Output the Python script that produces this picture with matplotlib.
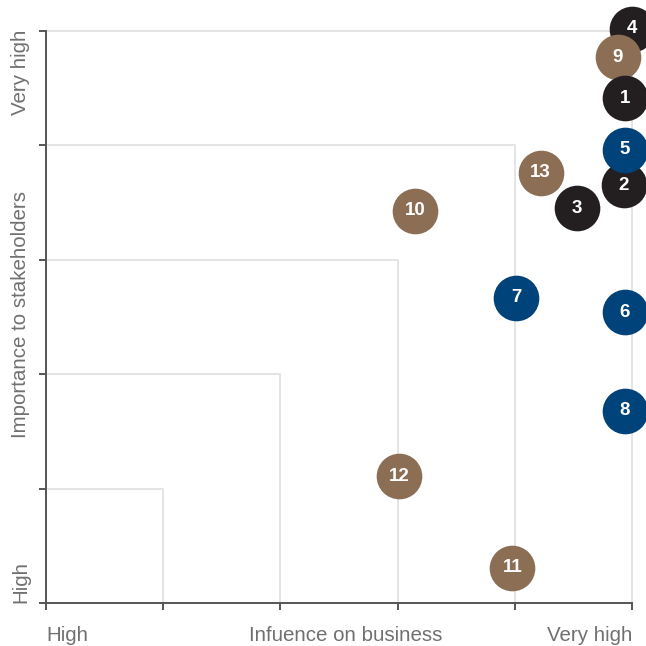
import matplotlib
matplotlib.use("Agg")
import matplotlib.pyplot as plt

# issue positions on a 0-5 scale
labels = ["1", "2", "3", "4", "5", "6", "7", "8", "9", "10", "11", "12", "13"]
influence = [4.94, 4.93, 4.53, 5.0, 4.94, 4.94, 4.01, 4.94, 4.88, 3.15, 3.98, 3.01, 4.22]
importance = [4.41, 3.65, 3.45, 5.02, 3.96, 2.54, 2.67, 1.68, 4.77, 3.43, 0.31, 1.11, 3.76]
groups = ["dark", "dark", "dark", "dark", "blue", "blue", "blue", "blue",
          "brown", "brown", "brown", "brown", "brown"]
colors = {"dark": "#231f20", "blue": "#00427a", "brown": "#8c6e55"}
levels = [1, 2, 3, 4, 5]

fig = plt.figure(figsize=(6.46, 6.46), dpi=100)
ax = fig.add_axes([46 / 646, 43 / 646, 586 / 646, 572 / 646])
ax.set_xlim(0, 5)
ax.set_ylim(0, 5)

for lv in levels:
    ax.plot([0, lv, lv], [lv, lv, 0], color="#e4e4e4", lw=1.4, zorder=1, clip_on=False)

# draw order so the overlaps come out right
order = [3, 8, 0, 1, 4, 12, 2, 9, 6, 5, 7, 11, 10]
for i in order:
    ax.scatter(influence[i], importance[i], s=1080, color=colors[groups[i]],
               zorder=3, clip_on=False, linewidths=0)
    ax.text(influence[i], importance[i], labels[i], color="white", ha="center",
            va="center", fontsize=13.5, fontweight="bold",
            family=["Liberation Sans", "DejaVu Sans"], zorder=4)

for side in ["top", "right"]:
    ax.spines[side].set_visible(False)
for side in ["left", "bottom"]:
    ax.spines[side].set_color("#555555")
    ax.spines[side].set_linewidth(1.4)
ax.set_xticks([0] + levels)
ax.set_yticks([0] + levels)
ax.set_xticklabels([])
ax.set_yticklabels([])
ax.tick_params(color="#555555", width=1.4, length=5)

tc = "#707070"
ff = ["Liberation Sans", "DejaVu Sans"]
fs = 14.8
fig.text(46 / 646, 1 - 641 / 646, "High", color=tc, fontsize=fs, family=ff, ha="left", va="baseline")
fig.text(346 / 646, 1 - 641 / 646, "Infuence on business", color=tc, fontsize=fs, family=ff, ha="center", va="baseline")
fig.text(632 / 646, 1 - 641 / 646, "Very high", color=tc, fontsize=fs, family=ff, ha="right", va="baseline")
fig.text(30 / 646, 1 - 30 / 646, "Very high", color=tc, fontsize=fs, family=ff, rotation=90, ha="right", va="top")
fig.text(30 / 646, 1 - 603 / 646, "High", color=tc, fontsize=fs, family=ff, rotation=90, ha="right", va="bottom")
fig.text(30 / 646, 1 - 314 / 646, "Importance to stakeholders", color=tc, fontsize=fs, family=ff, rotation=90, ha="right", va="center")

fig.savefig("out.png", dpi=100)
